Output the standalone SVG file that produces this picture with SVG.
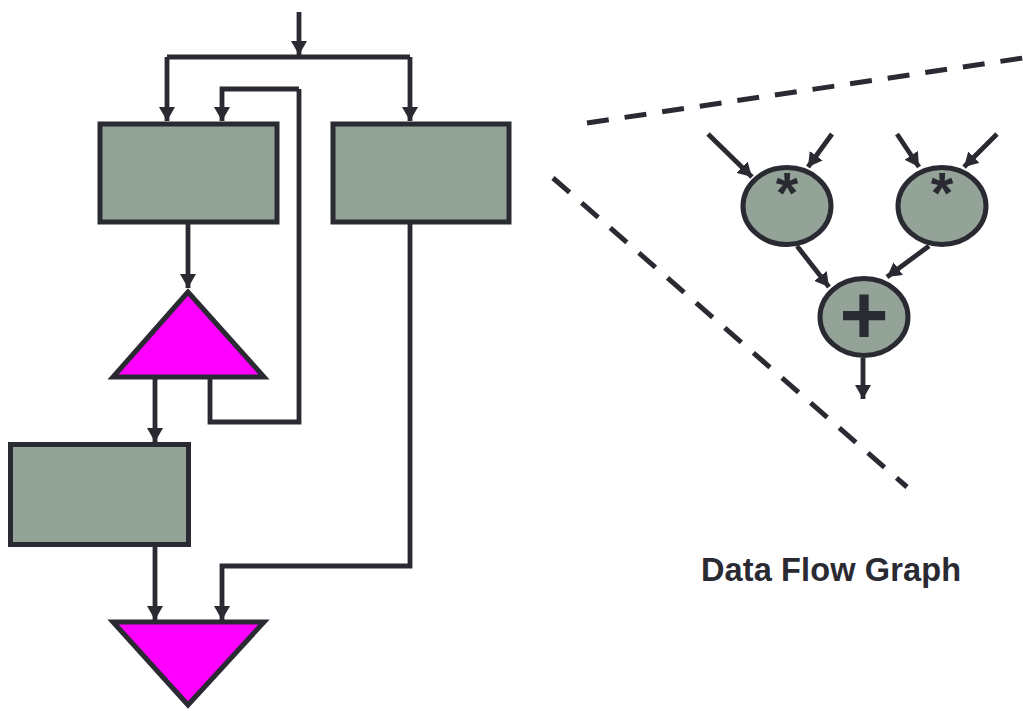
<svg xmlns="http://www.w3.org/2000/svg" width="1023" height="711" viewBox="0 0 1023 711">
<defs>
<marker id="ah" markerUnits="userSpaceOnUse" markerWidth="15" markerHeight="16" refX="14" refY="8" orient="auto">
<path d="M0,0 L14,8 L0,16 z" fill="#2a2a33"/>
</marker>
<style>
.box{fill:#93a398;stroke:#2a2a33;stroke-width:5}
.tri{fill:#ff00ff;stroke:#2a2a33;stroke-width:5;stroke-linejoin:miter}
.ell{fill:#93a398;stroke:#2a2a33;stroke-width:5}
.w{fill:none;stroke:#2a2a33;stroke-width:4.8;stroke-linejoin:miter}
.a{marker-end:url(#ah)}
.d{fill:none;stroke:#2a2a33;stroke-width:5;stroke-dasharray:22 16}
.op{font-family:"Liberation Sans",Arial,sans-serif;font-weight:bold;fill:#2a2a33;text-anchor:middle}
.lbl{font-family:"Liberation Sans",Arial,sans-serif;font-weight:bold;font-size:32.5px;fill:#2a2a33}
</style>
</defs>
<rect width="1023" height="711" fill="#ffffff"/>
<g id="connectors">
<path class="w a" d="M299,12 V55"/>
<path class="w" d="M167,57 H410"/>
<path class="w a" d="M167,57 V121"/>
<path class="w a" d="M410,57 V121"/>
<path class="w a" d="M299,89 H222 V121"/>
<path class="w" d="M210,379 V422 H299 V89"/>
<path class="w a" d="M188,224 V288"/>
<path class="w a" d="M155,379 V442"/>
<path class="w a" d="M155,546 V620"/>
<path class="w a" d="M410,224 V566 H222 V620"/>
<path class="w a" d="M708,134 L752,177"/>
<path class="w a" d="M832,134 L808,167"/>
<path class="w a" d="M897,134 L919,167"/>
<path class="w a" d="M997,134 L964,167"/>
<path class="w a" d="M797,246 L829,287"/>
<path class="w a" d="M929,246 L887,277"/>
<path class="w a" d="M863,358 V399"/>
</g>
<g id="box1"><rect class="box" x="100" y="124" width="177" height="98"/></g>
<g id="box2"><rect class="box" x="333" y="124" width="176" height="98"/></g>
<g id="box3"><rect class="box" x="10.5" y="444.5" width="178" height="100"/></g>
<g id="tri1"><polygon class="tri" points="188,292 113,377 264,377"/></g>
<g id="tri2"><polygon class="tri" points="113,622 264,622 188,705"/></g>
<g id="dashes">
<path class="d" d="M587,123 L1023,58"/>
<path class="d" d="M553,178 L907,487"/>
</g>
<g id="mul1"><ellipse class="ell" cx="787" cy="206" rx="44" ry="38.5"/><text class="op" x="787" y="213" font-size="58">*</text></g>
<g id="mul2"><ellipse class="ell" cx="942" cy="206" rx="44" ry="38.5"/><text class="op" x="942" y="213" font-size="58">*</text></g>
<g id="add"><ellipse class="ell" cx="864" cy="317" rx="44" ry="38.5"/><text class="op" x="864" y="344" font-size="84">+</text></g>
<g id="label"><text class="lbl" x="701" y="581" textLength="260">Data Flow Graph</text></g>
</svg>
